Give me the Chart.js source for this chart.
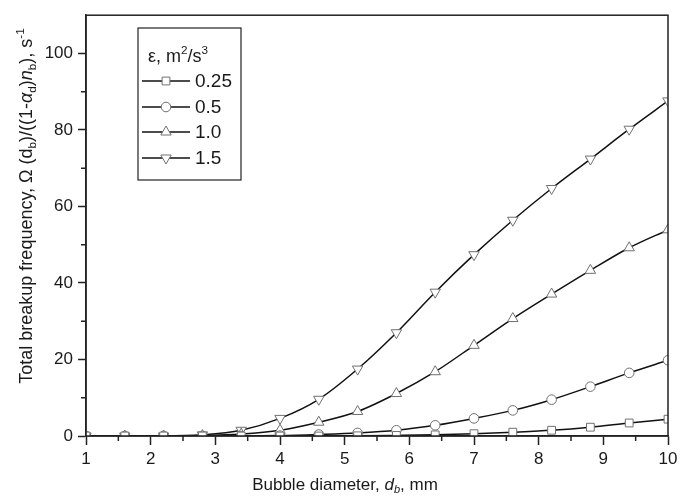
<!DOCTYPE html>
<html>
<head>
<meta charset="utf-8">
<script src="https://cdn.jsdelivr.net/npm/chart.js@4/dist/chart.umd.min.js"></script>
<style>
  html, body { margin: 0; padding: 0; background: #fff; }
  #wrap { width: 691px; height: 500px; }
</style>
</head>
<body>
<div id="wrap"><canvas id="c" width="691" height="500"></canvas></div>
<script>
// bubble diameter, mm
const diameters = [1, 1.6, 2.2, 2.8, 3.4, 4.0, 4.6, 5.2, 5.8, 6.4, 7.0, 7.6, 8.2, 8.8, 9.4, 10];
// total breakup frequency, 1/s, for each dissipation rate
const eps025 = [0, 0, 0, 0, 0, 0, 0, 0.05, 0.15, 0.3, 0.6, 1.0, 1.5, 2.3, 3.4, 4.4];
const eps05 = [0, 0, 0, 0, 0, 0.1, 0.4, 0.8, 1.5, 2.8, 4.6, 6.7, 9.5, 12.9, 16.5, 19.8];
const eps10 = [0, 0, 0, 0.1, 0.5, 1.5, 3.6, 6.4, 11.1, 16.8, 23.7, 30.7, 37.1, 43.3, 49.2, 53.9];
const eps15 = [0, 0, 0, 0.3, 1.5, 4.6, 9.6, 17.5, 27.0, 37.6, 47.4, 56.4, 64.7, 72.4, 80.2, 87.6];
const seriesLabels = ['0.25', '0.5', '1.0', '1.5'];
const xTicks = [1, 2, 3, 4, 5, 6, 7, 8, 9, 10];
const yTicks = [0, 20, 40, 60, 80, 100];

const FONT = '"Liberation Sans", Arial, Helvetica, sans-serif';
const markerGray = '#707070';
const textColor = '#1a1a1a';

function pts(ys) {
    return diameters.map((d, i) => ({ x: d, y: ys[i] }));
}

const styles = [
    { pointStyle: 'rect', radius: 5.5, rotation: 0 },
    { pointStyle: 'circle', radius: 4.8, rotation: 0 },
    { pointStyle: 'triangle', radius: 6, rotation: 0 },
    { pointStyle: 'triangle', radius: 6, rotation: 180 }
];

const datasets = [eps025, eps05, eps10, eps15].map((ys, i) => ({
    label: seriesLabels[i],
    data: pts(ys),
    borderColor: '#111',
    borderWidth: 1.5,
    cubicInterpolationMode: 'monotone',
    pointStyle: styles[i].pointStyle,
    pointRadius: styles[i].radius,
    pointRotation: styles[i].rotation,
    pointBackgroundColor: '#fff',
    pointBorderColor: markerGray,
    pointBorderWidth: 1,
    clip: 0
}));

// draw text made of pieces: {t, it, pos} with pos 'sub' / 'sup'
function richWidth(ctx, parts, size) {
    let w = 0;
    parts.forEach(p => {
        let s = p.pos ? size * 0.65 : size;
        ctx.font = (p.it ? 'italic ' : '') + s + 'px ' + FONT;
        w += ctx.measureText(p.t).width;
    });
    return w;
}

function drawRich(ctx, parts, x, y, size) {
    let cx = x - richWidth(ctx, parts, size) / 2;
    ctx.textBaseline = 'middle';
    ctx.textAlign = 'left';
    parts.forEach(p => {
        let s = p.pos ? size * 0.65 : size;
        let dy = 0;
        if (p.pos === 'sub') dy = size * 0.3;
        if (p.pos === 'sup') dy = -size * 0.35;
        ctx.font = (p.it ? 'italic ' : '') + s + 'px ' + FONT;
        ctx.fillText(p.t, cx, y + dy);
        cx += ctx.measureText(p.t).width;
    });
}

const xTitle = [
    { t: 'Bubble diameter, ' }, { t: 'd', it: true }, { t: 'b', it: true, pos: 'sub' }, { t: ', mm' }
];
const yTitle = [
    { t: 'Total breakup frequency, \u03a9 (d' }, { t: 'b', pos: 'sub' }, { t: ')/((1-' },
    { t: '\u03b1', it: true }, { t: 'd', pos: 'sub' }, { t: ')' }, { t: 'n', it: true },
    { t: 'b', pos: 'sub' }, { t: '), s' }, { t: '-1', pos: 'sup' }
];
const legendTitle = [
    { t: '\u03b5, m' }, { t: '2', pos: 'sup' }, { t: '/s' }, { t: '3', pos: 'sup' }
];

const decorations = {
    id: 'decorations',
    afterDraw(chart) {
        const ctx = chart.ctx;
        const a = chart.chartArea;
        const xs = chart.scales.x, ys = chart.scales.y;
        ctx.save();
        ctx.strokeStyle = '#222';
        ctx.lineWidth = 1.5;
        // frame
        ctx.strokeRect(a.left, a.top, a.right - a.left, a.bottom - a.top);
        // minor ticks
        ctx.beginPath();
        for (let v = 1.5; v < 10; v += 1) {
            let px = xs.getPixelForValue(v);
            ctx.moveTo(px, a.bottom);
            ctx.lineTo(px, a.bottom + 5);
        }
        for (let v = 10; v < 110; v += 20) {
            let py = ys.getPixelForValue(v);
            ctx.moveTo(a.left, py);
            ctx.lineTo(a.left - 5, py);
        }
        ctx.stroke();

        ctx.fillStyle = textColor;
        drawRich(ctx, xTitle, 345, 485, 17);
        ctx.save();
        ctx.translate(27, 206);
        ctx.rotate(-Math.PI / 2);
        drawRich(ctx, yTitle, 0, 0, 18);
        ctx.restore();

        // legend
        ctx.fillStyle = '#fff';
        ctx.fillRect(138, 28, 103, 152);
        ctx.lineWidth = 1.2;
        ctx.strokeRect(138, 28, 103, 152);
        ctx.fillStyle = textColor;
        drawRich(ctx, legendTitle, 178, 57, 18);
        const rows = [81, 107, 132, 158];
        chart.data.datasets.forEach((ds, i) => {
            let y = rows[i];
            ctx.strokeStyle = '#111';
            ctx.lineWidth = 1.5;
            ctx.beginPath();
            ctx.moveTo(142, y);
            ctx.lineTo(190, y);
            ctx.stroke();
            ctx.fillStyle = '#fff';
            ctx.strokeStyle = markerGray;
            ctx.lineWidth = 1;
            Chart.helpers.drawPoint(ctx, {
                pointStyle: ds.pointStyle,
                radius: ds.pointRadius,
                rotation: ds.pointRotation,
                borderWidth: 1
            }, 166, y);
            ctx.fillStyle = textColor;
            ctx.font = '19px ' + FONT;
            ctx.textAlign = 'left';
            ctx.textBaseline = 'middle';
            ctx.fillText(ds.label, 195, y + 1);
        });
        ctx.restore();
    }
};

new Chart(document.getElementById('c'), {
    type: 'line',
    data: { datasets: datasets },
    options: {
        responsive: false,
        animation: false,
        events: [],
        layout: { padding: { top: 8, right: 23, left: 0, bottom: 0 } },
        plugins: { legend: { display: false }, tooltip: { enabled: false } },
        scales: {
            x: {
                type: 'linear',
                min: 1,
                max: 10,
                afterFit(s) { s.height = 64; },
                afterBuildTicks(s) { s.ticks = xTicks.map(v => ({ value: v })); },
                border: { color: '#222', width: 1.5 },
                grid: { drawOnChartArea: false, tickLength: 9, tickColor: '#222', tickWidth: 1.5 },
                ticks: { color: textColor, font: { family: FONT, size: 17 }, padding: 4, maxRotation: 0 }
            },
            y: {
                type: 'linear',
                min: 0,
                max: 110,
                afterFit(s) { s.width = 86; },
                afterBuildTicks(s) { s.ticks = yTicks.map(v => ({ value: v })); },
                border: { color: '#222', width: 1.5 },
                grid: { drawOnChartArea: false, tickLength: 8, tickColor: '#222', tickWidth: 1.5 },
                ticks: { color: textColor, font: { family: FONT, size: 17 }, padding: 5 }
            }
        }
    },
    plugins: [decorations]
});
</script>
</body>
</html>
